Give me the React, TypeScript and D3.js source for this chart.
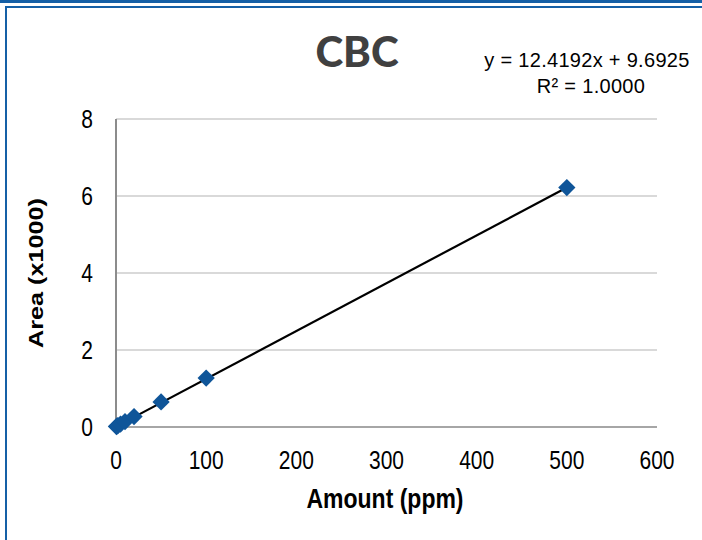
import React, { useRef, useEffect } from 'react';
import * as d3 from 'd3';

const amounts = [0.5, 1, 2, 5, 10, 20, 50, 100, 500];
const areas = [0.01, 0.02, 0.035, 0.075, 0.14, 0.27, 0.65, 1.27, 6.22];
const xTicks = [0, 100, 200, 300, 400, 500, 600];
const yTicks = [0, 2, 4, 6, 8];
const slope = 12.4192;
const intercept = 9.6925;

const App: React.FC = () => {
  const svgRef = useRef<SVGSVGElement>(null);

  useEffect(() => {
    if (!svgRef.current) return;
    const svg = d3.select(svgRef.current);
    svg.selectAll('*').remove();

    const width = 702;
    const height = 540;
    const blue = '#1560a6';
    const font = '"Liberation Sans", Arial, sans-serif';
    const stretch = 1.2; // axis text in the original looks vertically stretched

    // frame
    svg.append('rect').attr('x', 0).attr('y', 0).attr('width', width).attr('height', height).attr('fill', '#fff');
    svg.append('rect').attr('x', 0).attr('y', 0).attr('width', width).attr('height', 3).attr('fill', blue);
    svg.append('line').attr('x1', 5).attr('x2', width).attr('y1', 7).attr('y2', 7)
      .attr('stroke', blue).attr('stroke-width', 2);
    svg.append('line').attr('x1', 6).attr('x2', 6).attr('y1', 6).attr('y2', height)
      .attr('stroke', blue).attr('stroke-width', 2);

    const x = d3.scaleLinear().domain([0, 600]).range([116, 657]);
    const y = d3.scaleLinear().domain([0, 8]).range([427, 119]);

    // gridlines
    svg.append('g').selectAll('line').data(yTicks.filter(t => t > 0)).enter().append('line')
      .attr('x1', x(0)).attr('x2', x(600))
      .attr('y1', d => y(d)).attr('y2', d => y(d))
      .attr('stroke', '#d9d9d9').attr('stroke-width', 2);

    // axes lines
    svg.append('line').attr('x1', x(0)).attr('x2', x(600)).attr('y1', y(0)).attr('y2', y(0))
      .attr('stroke', '#a6a6a6').attr('stroke-width', 2);
    svg.append('line').attr('x1', x(0)).attr('x2', x(0)).attr('y1', y(0)).attr('y2', y(8))
      .attr('stroke', '#8c8c8c').attr('stroke-width', 2);

    // tick labels
    svg.append('g').selectAll('text').data(xTicks).enter().append('text')
      .attr('transform', d => `translate(${x(d)},469) scale(1,${stretch})`)
      .attr('text-anchor', 'middle')
      .attr('font-family', font).attr('font-size', 21).attr('fill', '#000')
      .text(d => d);
    svg.append('g').selectAll('text').data(yTicks).enter().append('text')
      .attr('transform', d => `translate(93,${y(d) + 9}) scale(1,${stretch})`)
      .attr('text-anchor', 'end')
      .attr('font-family', font).attr('font-size', 21).attr('fill', '#000')
      .text(d => d);

    // trendline
    const line = d3.line<number>()
      .x(d => x(d))
      .y(d => y((slope * d + intercept) / 1000));
    svg.append('path').datum([0, 500]).attr('d', line)
      .attr('fill', 'none').attr('stroke', '#000').attr('stroke-width', 2.2);

    // markers
    const diamond = d3.symbol().type(d3.symbolDiamond2).size(190);
    svg.append('g').selectAll('path').data(amounts).enter().append('path')
      .attr('d', diamond)
      .attr('transform', (d, i) => `translate(${x(d)},${y(areas[i])})`)
      .attr('fill', '#0f5599');

    // title
    svg.append('text').attr('x', 357).attr('y', 67).attr('text-anchor', 'middle')
      .attr('font-family', 'Lato, "Open Sans", sans-serif').attr('font-weight', 900)
      .attr('font-size', 42).attr('fill', '#404040').text('CBC');

    // equation
    svg.append('text').attr('x', 587).attr('y', 67).attr('text-anchor', 'middle')
      .attr('font-family', font).attr('font-size', 20).attr('letter-spacing', 0.3).attr('fill', '#000')
      .text('y = 12.4192x + 9.6925');
    svg.append('text').attr('x', 591).attr('y', 93).attr('text-anchor', 'middle')
      .attr('font-family', font).attr('font-size', 20).attr('letter-spacing', 0.3).attr('fill', '#000')
      .text('R² = 1.0000');

    // axis titles
    svg.append('text').attr('transform', `translate(385,508) scale(1,${stretch})`).attr('text-anchor', 'middle')
      .attr('font-family', font).attr('font-weight', 'bold').attr('font-size', 23).attr('fill', '#000')
      .text('Amount (ppm)');
    svg.append('text').attr('transform', `translate(43,273) rotate(-90) scale(${stretch},1)`).attr('text-anchor', 'middle')
      .attr('font-family', font).attr('font-weight', 'bold').attr('font-size', 21).attr('fill', '#000')
      .text('Area (x1000)');
  }, []);

  return (
    <svg ref={svgRef} width={702} height={540}
      style={{ position: 'absolute', left: 0, top: 0, display: 'block' }} />
  );
};

export default App;
